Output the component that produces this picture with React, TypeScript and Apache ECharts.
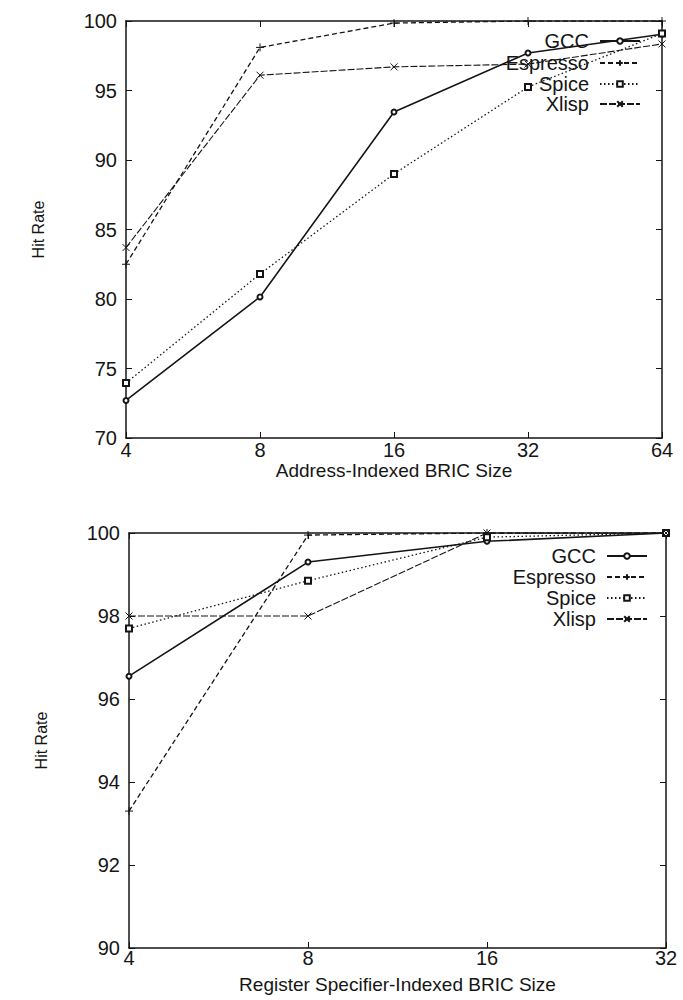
import React, { useEffect, useRef } from "react";
import * as echarts from "echarts";

const sizesTop = [4, 8, 16, 32, 64];
const gccTop = [72.7, 80.15, 93.45, 97.7, 99.05];
const espressoTop = [82.5, 98.1, 99.85, 100, 100];
const spiceTop = [73.95, 81.8, 89.0, 95.25, 99.1];
const xlispTop = [83.7, 96.1, 96.7, 96.9, 98.35];

const sizesBottom = [4, 8, 16, 32];
const gccBottom = [96.55, 99.3, 99.8, 100];
const espressoBottom = [93.3, 99.95, 100, 100];
const spiceBottom = [97.7, 98.85, 99.9, 100];
const xlispBottom = [98.0, 98.0, 100, 100];

const seriesNames = ["GCC", "Espresso", "Spice", "Xlisp"];
const xTitleTop = "Address-Indexed BRIC Size";
const xTitleBottom = "Register Specifier-Indexed BRIC Size";
const yTitle = "Hit Rate";

const FONT = "Liberation Sans, Arial, Helvetica, sans-serif";
const INK = "#151515";

const PLUS = "path://M0,5L10,5M5,0L5,10";
const CROSS = "path://M0,0L10,10M10,0L0,10";

const styles: Record<string, any> = {
  GCC: { symbol: "emptyCircle", symbolSize: 5, lineType: "solid", width: 1.6 },
  Espresso: { symbol: PLUS, symbolSize: 8, lineType: [5, 3], width: 1.3 },
  Spice: { symbol: "emptyRect", symbolSize: 6, lineType: [1.5, 2.5], width: 1.3 },
  Xlisp: { symbol: CROSS, symbolSize: 7, lineType: [7, 2], width: 1.1 },
};

function makeSeries(name: string, xs: number[], ys: number[], axisIdx: number) {
  const s = styles[name];
  return {
    type: "line",
    name,
    xAxisIndex: axisIdx,
    yAxisIndex: axisIdx,
    data: xs.map((x, i) => [x, ys[i]]),
    symbol: s.symbol,
    symbolSize: s.symbolSize,
    showAllSymbol: true,
    lineStyle: { color: INK, width: s.width, type: s.lineType },
    itemStyle: { color: INK, borderColor: INK, borderWidth: 1 },
    emphasis: { disabled: true },
    z: 3,
  };
}

function xAxisCfg(grid: number, max: number, name: string, main: boolean) {
  return {
    type: "log",
    logBase: 2,
    gridIndex: grid,
    min: 4,
    max,
    position: main ? "bottom" : "top",
    name: main ? name : "",
    nameLocation: "middle",
    nameGap: grid === 0 ? 15 : 27,
    nameTextStyle: { fontFamily: FONT, fontSize: 19, color: INK },
    axisLine: { show: true, lineStyle: { color: INK, width: 1.5 } },
    axisTick: { show: true, inside: true, length: 6, lineStyle: { color: INK } },
    axisLabel: {
      show: main,
      fontFamily: FONT,
      fontSize: 20,
      color: INK,
      margin: grid === 0 ? 2 : 0,
    },
    splitLine: { show: false },
    minorTick: { show: false },
  };
}

function yAxisCfg(grid: number, min: number, interval: number, main: boolean) {
  return {
    type: "value",
    gridIndex: grid,
    min,
    max: 100,
    interval,
    position: main ? "left" : "right",
    name: main ? yTitle : "",
    nameLocation: "middle",
    nameRotate: 90,
    nameGap: 80,
    nameTextStyle: { fontFamily: FONT, fontSize: 16, color: INK },
    axisLine: { show: true, lineStyle: { color: INK, width: 1.5 } },
    axisTick: { show: true, inside: true, length: 6, lineStyle: { color: INK } },
    axisLabel: {
      show: main,
      fontFamily: FONT,
      fontSize: 20,
      color: INK,
      margin: 9,
    },
    splitLine: { show: false },
  };
}

function legendCfg(name: string, right: number, top: number) {
  return {
    data: [name],
    orient: "vertical",
    right,
    top,
    align: "right",
    itemWidth: 40,
    itemHeight: 7,
    selectedMode: false,
    textStyle: { fontFamily: FONT, fontSize: 20, color: INK, padding: [0, 6, 0, 0] },
  };
}

export default function App() {
  const ref = useRef<HTMLDivElement>(null);
  useEffect(() => {
    if (!ref.current) return;
    const chart = echarts.init(ref.current, undefined, { renderer: "svg" });
    const topLegendY = [26, 48, 69, 89];
    const bottomLegendY = [541, 562, 583, 604];
    const option: any = {
      animation: false,
      backgroundColor: "#ffffff",
      grid: [
        { left: 126, right: 21, top: 21, height: 417 },
        { left: 129, right: 17, top: 533, height: 415 },
      ],
      xAxis: [
        xAxisCfg(0, 64, xTitleTop, true),
        xAxisCfg(0, 64, "", false),
        xAxisCfg(1, 32, xTitleBottom, true),
        xAxisCfg(1, 32, "", false),
      ],
      yAxis: [
        yAxisCfg(0, 70, 5, true),
        yAxisCfg(0, 70, 5, false),
        yAxisCfg(1, 90, 2, true),
        yAxisCfg(1, 90, 2, false),
      ],
      legend: [
        ...seriesNames.map((n, i) => legendCfg(n, 37, topLegendY[i])),
        ...seriesNames.map((n, i) => legendCfg(n, 30, bottomLegendY[i])),
      ],
      series: [
        makeSeries("GCC", sizesTop, gccTop, 0),
        makeSeries("Espresso", sizesTop, espressoTop, 0),
        makeSeries("Spice", sizesTop, spiceTop, 0),
        makeSeries("Xlisp", sizesTop, xlispTop, 0),
        makeSeries("GCC", sizesBottom, gccBottom, 2),
        makeSeries("Espresso", sizesBottom, espressoBottom, 2),
        makeSeries("Spice", sizesBottom, spiceBottom, 2),
        makeSeries("Xlisp", sizesBottom, xlispBottom, 2),
      ],
    };
    chart.setOption(option);
    return () => chart.dispose();
  }, []);
  return (
    <div
      ref={ref}
      style={{ position: "absolute", left: 0, top: 0, width: 683, height: 1000, background: "#fff" }}
    />
  );
}
